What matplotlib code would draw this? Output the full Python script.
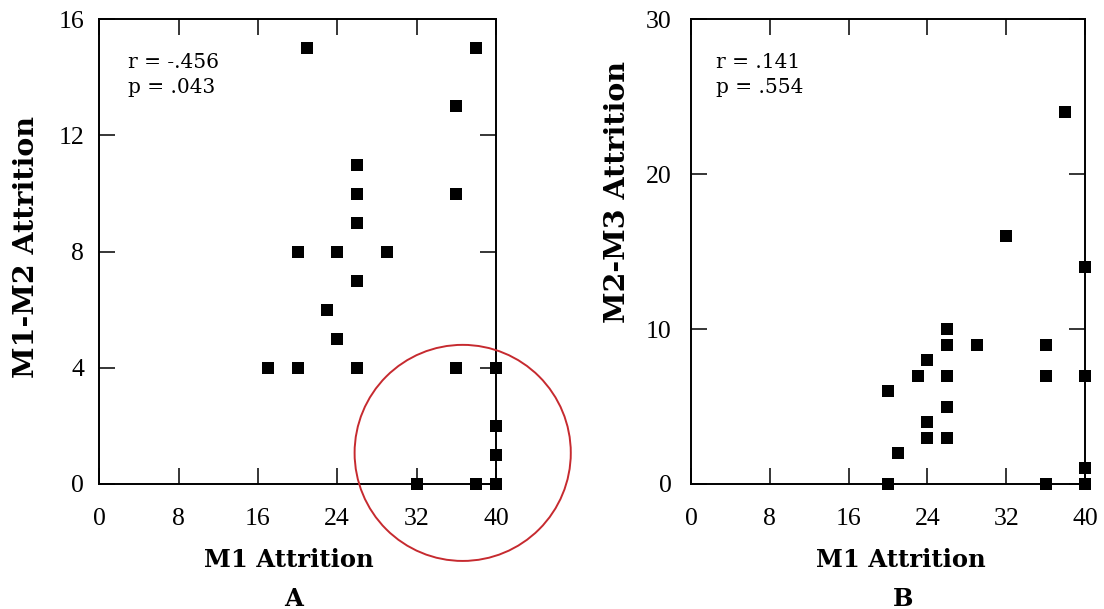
import matplotlib
matplotlib.use("Agg")
import matplotlib.pyplot as plt
from matplotlib.patches import Ellipse

# ---- data ----
a_x = [21, 38, 36, 26, 26, 36, 26, 20, 24, 29, 26, 23, 24, 17, 20, 26, 36, 40, 40, 40, 32, 38, 40]
a_y = [15, 15, 13, 11, 10, 10, 9, 8, 8, 8, 7, 6, 5, 4, 4, 4, 4, 4, 2, 1, 0, 0, 0]

b_x = [38, 32, 40, 26, 26, 29, 36, 24, 23, 26, 36, 40, 20, 26, 24, 24, 26, 21, 40, 20, 36, 40]
b_y = [24, 16, 14, 10, 9, 9, 9, 8, 7, 7, 7, 7, 6, 5, 4, 3, 3, 2, 1, 0, 0, 0]

x_ticks = [0, 8, 16, 24, 32, 40]
a_yticks = [0, 4, 8, 12, 16]
b_yticks = [0, 10, 20, 30]

a_stats = "r = -.456\np = .043"
b_stats = "r = .141\np = .554"

x_label = "M1 Attrition"
a_ylabel = "M1-M2 Attrition"
b_ylabel = "M2-M3 Attrition"

# highlight circle (data coords of panel A)
circle_center = (36.65, 1.07)
circle_w, circle_h = 21.8, 7.44

fig = plt.figure(figsize=(11.04, 6.09), dpi=100)
fig.patch.set_facecolor("white")

axA = fig.add_axes([0.0899, 0.2053, 0.3593, 0.763])
axB = fig.add_axes([0.6259, 0.2053, 0.3569, 0.763])

label_font = dict(family="DejaVu Serif", weight="bold")


def style(ax, yticks, ylim, ypad):
    ax.set_xlim(0, 40)
    ax.set_ylim(*ylim)
    ax.set_xticks(x_ticks)
    ax.set_yticks(yticks)
    ax.tick_params(axis="both", which="major", direction="in", length=11.5, width=1.1,
                   top=True, right=True, labeltop=False, labelright=False, color="black")
    ax.tick_params(axis="x", pad=17)
    ax.tick_params(axis="y", pad=ypad)
    for lab in ax.get_xticklabels() + ax.get_yticklabels():
        lab.set_fontfamily("Liberation Serif")
        lab.set_fontsize(18.5)
    for sp in ax.spines.values():
        sp.set_linewidth(1.4)
        sp.set_color("black")


style(axA, a_yticks, (0, 16), 11)
style(axB, b_yticks, (0, 30), 14)

mk = dict(marker="s", s=85, color="black", linewidths=0, clip_on=False, zorder=5)
axA.scatter(a_x, a_y, **mk)
axB.scatter(b_x, b_y, **mk)

axA.text(0.072, 0.928, a_stats, transform=axA.transAxes, family="DejaVu Serif",
         fontsize=14.5, va="top", ha="left", linespacing=1.4)
axB.text(0.063, 0.928, b_stats, transform=axB.transAxes, family="DejaVu Serif",
         fontsize=14.5, va="top", ha="left", linespacing=1.4)

ell = Ellipse(circle_center, circle_w, circle_h, fill=False, edgecolor="#c62a2f",
              linewidth=1.4, clip_on=False, zorder=6)
axA.add_patch(ell)

# axis labels and panel letters
fig.text(0.2618, 0.0805, x_label, ha="center", va="center", fontsize=17.5, **label_font)
fig.text(0.266, 0.017, "A", ha="center", va="center", fontsize=17.5, **label_font)
fig.text(0.816, 0.0805, x_label, ha="center", va="center", fontsize=17.5, **label_font)
fig.text(0.818, 0.017, "B", ha="center", va="center", fontsize=17.5, **label_font)
fig.text(0.0236, 0.5936, a_ylabel, ha="center", va="center", rotation=90, fontsize=20.5, **label_font)
fig.text(0.5589, 0.6847, b_ylabel, ha="center", va="center", rotation=90, fontsize=20.5, **label_font)

fig.savefig("out.png", dpi=100, facecolor="white")
